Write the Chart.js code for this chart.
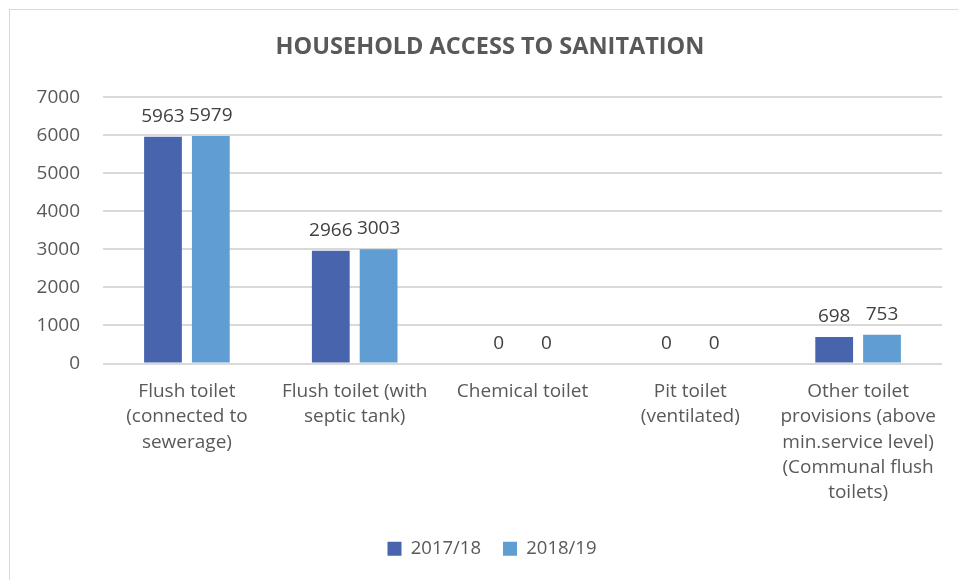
<!DOCTYPE html>
<html><head><meta charset="utf-8">
<script src="https://cdn.jsdelivr.net/npm/chart.js@4/dist/chart.umd.min.js"></script>
<style>
html,body{margin:0;padding:0;background:#fff;}
#wrap{position:absolute;left:9px;top:9px;width:960px;height:580px;border:1px solid #d9d9d9;box-sizing:border-box;}
#c{position:absolute;left:0;top:0;}
</style></head>
<body>
<div id="wrap"><canvas id="c" width="948" height="571"></canvas></div>
<script>
const categories = [
  ["Flush toilet","(connected to","sewerage)"],
  ["Flush toilet (with","septic tank)"],
  ["Chemical toilet"],
  ["Pit toilet","(ventilated)"],
  ["Other toilet","provisions (above","min.service level)","(Communal flush","toilets)"]
];
const series2017 = [5963, 2966, 0, 0, 698];
const series2018 = [5979, 3003, 0, 0, 753];
const seriesNames = ["2017/18", "2018/19"];
const yTicks = [0, 1000, 2000, 3000, 4000, 5000, 6000, 7000];
const FONT = "'Open Sans', 'Liberation Sans', sans-serif";

const labelPlugin = {
  id: 'valueLabels',
  afterLayout(chart) {
    // shift title and legend horizontally to match the reference centring
    const tb = chart.titleBlock;
    if (tb) { tb.left += 9; tb.right += 9; }
    const lg = chart.legend;
    if (lg) { lg.left += 11; lg.right += 11; }
  },
  afterDatasetsDraw(chart) {
    const ctx = chart.ctx;
    ctx.save();
    ctx.font = "19px " + FONT;
    ctx.fillStyle = "#404040";
    ctx.textAlign = "center";
    ctx.textBaseline = "alphabetic";
    chart.data.datasets.forEach((ds, i) => {
      const meta = chart.getDatasetMeta(i);
      meta.data.forEach((bar, j) => {
        ctx.fillText(String(ds.data[j]), bar.x, bar.y - 15);
      });
    });
    ctx.restore();
  }
};

new Chart(document.getElementById('c'), {
  type: 'bar',
  data: {
    labels: categories,
    datasets: [
      {label: seriesNames[0], data: series2017, backgroundColor: '#4864ad'},
      {label: seriesNames[1], data: series2018, backgroundColor: '#5f9dd3'}
    ]
  },
  options: {
    responsive: false,
    animation: false,
    devicePixelRatio: 1,
    layout: {padding: {left: 10, right: 16, top: 0, bottom: 13}},
    datasets: {bar: {categoryPercentage: 0.57, barPercentage: 0.79}},
    plugins: {
      title: {display: true, text: 'HOUSEHOLD ACCESS TO SANITATION', color: '#595959',
        font: {family: FONT, size: 23.5, weight: 'bold', lineHeight: 1.2}, padding: {top: 23, bottom: 36}},
      legend: {position: 'bottom', labels: {color: '#595959', font: {family: FONT, size: 18.5},
        boxWidth: 14, boxHeight: 14, padding: 22}},
      tooltip: {enabled: false}
    },
    scales: {
      x: {
        grid: {display: false},
        border: {display: false},
        ticks: {color: '#595959', font: {family: FONT, size: 19, lineHeight: 1.34}, maxRotation: 0, autoSkip: false, padding: 7},
        afterFit: (s) => { s.height = 154; }
      },
      y: {
        min: 0, max: 7000,
        afterBuildTicks: (s) => { s.ticks = yTicks.map(v => ({value: v})); },
        ticks: {color: '#595959', font: {family: FONT, size: 19}, padding: 23,
          callback: (v) => String(v)},
        grid: {color: '#d9d9d9', lineWidth: 2, drawTicks: false},
        border: {display: false},
        afterFit: (s) => { s.width = 83; }
      }
    }
  },
  plugins: [labelPlugin]
});
</script>
</body></html>
